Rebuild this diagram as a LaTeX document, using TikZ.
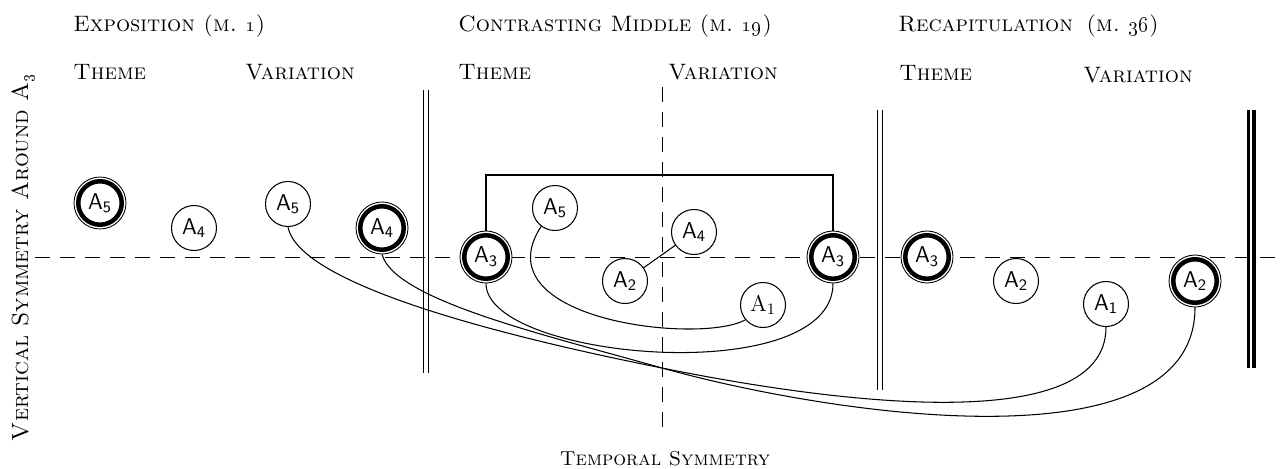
\documentclass[tikz,border=0pt]{standalone}

\tikzset{
  plainnode/.style={circle, draw, fill=white, line width=0.6pt, minimum size=9mm, inner sep=0pt,
    font=\sffamily\fontsize{13}{13}\selectfont},
  keynode/.style={plainnode, minimum size=10.4mm, line width=0.5pt,
    path picture={\draw[line width=0.9mm] (path picture bounding box.center) circle (4.35mm);}},
  heading/.style={anchor=base west, inner sep=0pt, font=\fontsize{12.7}{14}\selectfont\scshape},
  dashline/.style={dash pattern=on 3mm off 2mm, line width=0.5pt},
  barline/.style={line width=0.5pt},
  link/.style={line width=0.6pt},
}

\begin{document}
\begin{tikzpicture}[x=0.2mm, y=-0.2mm]
  \useasboundingbox (0,0) rectangle (1281,468);

  % section titles
  \node[heading] (hexp) at (73,31) {Exposition (m.~\oldstylenums{1})};
  \node[heading] (hmid) at (458,31) {Contrasting Middle (m.~\oldstylenums{19})};
  \node[heading] (hrec) at (898,31) {Recapitulation\hspace{1mm} (m.~\oldstylenums{36})};
  \node[heading] (texp) at (73,79) {Theme};
  \node[heading] (vexp) at (245,79) {Variation};
  \node[heading] (tmid) at (458,79) {Theme};
  \node[heading] (vmid) at (668,79) {Variation};
  \node[heading] (trec) at (899,80) {Theme};
  \node[heading] (vrec) at (1083,82) {Variation};

  % symmetry axes
  \draw[dashline] (35,257) -- (1281,257);
  \draw[dashline] (662,87) -- (662,428);
  \node[heading, anchor=base, font=\fontsize{11.5}{13}\selectfont\scshape] (tsym) at (665,465) {Temporal Symmetry};
  \node[heading, anchor=base, rotate=90, font=\fontsize{13.3}{15}\selectfont\scshape] (vsym) at (28,257)
    {Vertical Symmetry Around A\textsubscript{\oldstylenums{3}}};

  % section bars
  \draw[barline] (423,90) -- (423,373) (428,90) -- (428,373);
  \draw[barline] (877,110) -- (877,390) (882,110) -- (882,390);
  \draw[line width=0.6mm] (1248.5,110) -- (1248.5,368);
  \draw[line width=0.8mm] (1254,110) -- (1254,368);

  % exposition
  \node[keynode] (expA5) at (100,203) {A\textsubscript{5}};
  \node[plainnode] (expA4) at (194,228) {A\textsubscript{4}};
  \node[plainnode] (expvA5) at (288,204) {A\textsubscript{5}};
  \node[keynode] (expvA4) at (382,228) {A\textsubscript{4}};

  % contrasting middle
  \node[keynode] (midA3) at (486,257) {A\textsubscript{3}};
  \node[plainnode] (midA5) at (555,208) {A\textsubscript{5}};
  \node[plainnode] (midA4) at (694,232) {A\textsubscript{4}};
  \node[plainnode] (midA2) at (625,281) {A\textsubscript{2}};
  \node[plainnode, font=\rmfamily\fontsize{13}{13}\selectfont] (midA1) at (763,305) {A\textsubscript{1}};
  \node[keynode] (midvA3) at (833,257) {A\textsubscript{3}};

  % recapitulation
  \node[keynode] (recA3) at (927,257) {A\textsubscript{3}};
  \node[plainnode] (recA2) at (1016,281) {A\textsubscript{2}};
  \node[plainnode] (recA1) at (1106,304) {A\textsubscript{1}};
  \node[keynode] (recvA2) at (1195,281) {A\textsubscript{2}};

  % connections
  \coordinate (arch) at (660,175);
  \coordinate (cross) at (662,368);
  \draw[line width=0.45mm] (midA3.north) -- (midA3.north |- arch) -- (midvA3.north |- arch) -- (midvA3.north);
  \draw[link] (midA2) -- (midA4);
  \draw[link] (midA5.233) .. controls (480,320) and (700,345) .. (midA1.220);
  \draw[link] (midA3.south) .. controls (486,360) and (833,390) .. (midvA3.south);
  \draw[link] (expvA5.south) .. controls (300,290) and (542,344) .. (cross)
    .. controls (800,396) and (1106,445) .. (recA1.south);
  \draw[link] (expvA4.south) .. controls (395,300) and (542,334) .. (cross)
    .. controls (830,415) and (1195,470) .. (recvA2.south);

\end{tikzpicture}
\end{document}
